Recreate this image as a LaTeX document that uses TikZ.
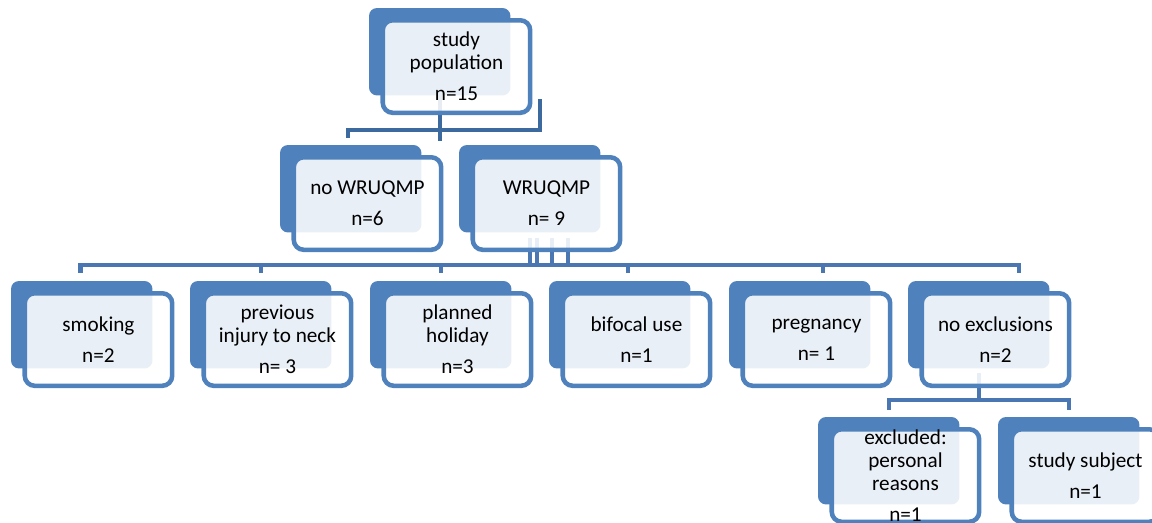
\documentclass[tikz,border=0pt]{standalone}
\usepackage{fontspec}
\setmainfont{Carlito}
\usepackage{xcolor}
\usepackage{tikz}
\usetikzlibrary{shapes,positioning,backgrounds}

\definecolor{smblue}{HTML}{4F81BD}
\definecolor{smline}{HTML}{4A76B2}
\definecolor{smdark}{HTML}{3D6A9E}

\begin{document}
\begin{tikzpicture}[
    x=0.75pt, y=-0.75pt,
    backbox/.style={rectangle, anchor=north west, fill=smblue, rounded corners=6pt, minimum width=106.1pt, minimum height=65.6pt, inner sep=0pt, outer sep=0pt},
    frontbox/.style={rectangle, anchor=north west, draw=smblue, line width=3.4pt, fill=white, fill opacity=0.88, text opacity=1, rounded corners=7.5pt, minimum width=110.6pt, minimum height=69.4pt, inner sep=0pt, outer sep=0pt, align=center, font=\fontsize{15.9}{17.25}\selectfont},
    conn/.style={draw=smline, line width=3.3pt},
    topconn/.style={draw=smdark, line width=3.3pt}
]
    \useasboundingbox (0,0) rectangle (1152,522);

    % top
    \node [backbox] (top-b) at (369,8) {};
    \node [frontbox] (top) at ([xshift=10.3pt,yshift=-9.2pt]top-b.north west) {study\\population\\[6pt]n=15};

    % second level
    \node [backbox] (nowr-b) at (280,145) {};
    \node [frontbox] (nowr) at ([xshift=10.3pt,yshift=-9.2pt]nowr-b.north west) {no WRUQMP\\[6pt]n=6};
    \node [backbox] (wr-b) at (459,145) {};
    \node [frontbox] (wr) at ([xshift=10.3pt,yshift=-9.2pt]wr-b.north west) {WRUQMP\\[6pt]n= 9};

    % exclusions
    \node [backbox] (smoking-b) at (11,281) {};
    \node [frontbox] (smoking) at ([xshift=10.3pt,yshift=-9.2pt]smoking-b.north west) {smoking\\[6pt]n=2};
    \node [backbox] (injury-b) at (190,281) {};
    \node [frontbox] (injury) at ([xshift=10.3pt,yshift=-9.2pt]injury-b.north west) {previous\\injury to neck\\[6pt]n= 3};
    \node [backbox] (holiday-b) at (370,281) {};
    \node [frontbox] (holiday) at ([xshift=10.3pt,yshift=-9.2pt]holiday-b.north west) {planned\\holiday\\[6pt]n=3};
    \node [backbox] (bifocal-b) at (549,281) {};
    \node [frontbox] (bifocal) at ([xshift=10.3pt,yshift=-9.2pt]bifocal-b.north west) {bifocal use\\[6pt]n=1};
    \node [backbox] (pregn-b) at (729,281) {};
    \node [frontbox] (pregn) at ([xshift=10.3pt,yshift=-9.2pt]pregn-b.north west) {pregnancy\\[6pt]n= 1};
    \node [backbox] (noexcl-b) at (908,281) {};
    \node [frontbox] (noexcl) at ([xshift=10.3pt,yshift=-9.2pt]noexcl-b.north west) {no exclusions\\[6pt]n=2};

    % bottom
    \node [backbox] (personal-b) at (818,417) {};
    \node [frontbox] (personal) at ([xshift=10.3pt,yshift=-9.2pt]personal-b.north west) {excluded:\\personal\\reasons\\[6pt]n=1};
    \node [backbox] (subject-b) at (998,417) {};
    \node [frontbox] (subject) at ([xshift=10.3pt,yshift=-9.2pt]subject-b.north west) {study subject\\[6pt]n=1};

    \coordinate (bus1) at (0,130);
    \coordinate (bus2) at (0,265);
    \coordinate (bus3) at (0,400);

    \begin{scope}[on background layer]
        % top connector
        \draw [topconn] (top-b.south) -- ++(0,46);
        \draw [topconn] ([xshift=-2.25pt,yshift=5.25pt]nowr-b.north) -- ([xshift=-2.25pt]nowr-b.north |- bus1) -- ([xshift=7.5pt]wr-b.north |- bus1) -- ++(0,-31);

        % second connector
        \draw [conn] ([yshift=-4.5pt]wr-b.south) -- (wr-b.south |- bus2);
        \draw [conn] ([xshift=5.25pt,yshift=-4.5pt]wr-b.south) -- ([xshift=5.25pt]wr-b.south |- bus2);
        \draw [conn] ([xshift=16.5pt,yshift=-4.5pt]wr-b.south) -- ([xshift=16.5pt]wr-b.south |- bus2);
        \draw [conn] ([xshift=28.5pt,yshift=-4.5pt]wr-b.south) -- ([xshift=28.5pt]wr-b.south |- bus2);
        \draw [conn] ([xshift=-1pt,yshift=6pt]smoking-b.north) -- ([xshift=-1pt]smoking-b.north |- bus2) -- ([xshift=30pt]noexcl-b.north |- bus2) -- ([xshift=30pt,yshift=6pt]noexcl-b.north);
        \draw [conn] (injury-b.north |- bus2) -- ([yshift=6pt]injury-b.north);
        \draw [conn] (holiday-b.north |- bus2) -- ([yshift=6pt]holiday-b.north);
        \draw [conn] ([xshift=6pt]bifocal-b.north |- bus2) -- ([xshift=6pt,yshift=6pt]bifocal-b.north);
        \draw [conn] ([xshift=17.25pt]pregn-b.north |- bus2) -- ([xshift=17.25pt,yshift=6pt]pregn-b.north);

        % bottom connector
        \draw [conn] ([yshift=-3.75pt]noexcl-b.south) -- (noexcl-b.south |- bus3);
        \draw [conn] ([yshift=5.25pt]personal-b.north) -- (personal-b.north |- bus3) -- (subject-b.north |- bus3) -- ([yshift=5.25pt]subject-b.north);
    \end{scope}
\end{tikzpicture}
\end{document}
